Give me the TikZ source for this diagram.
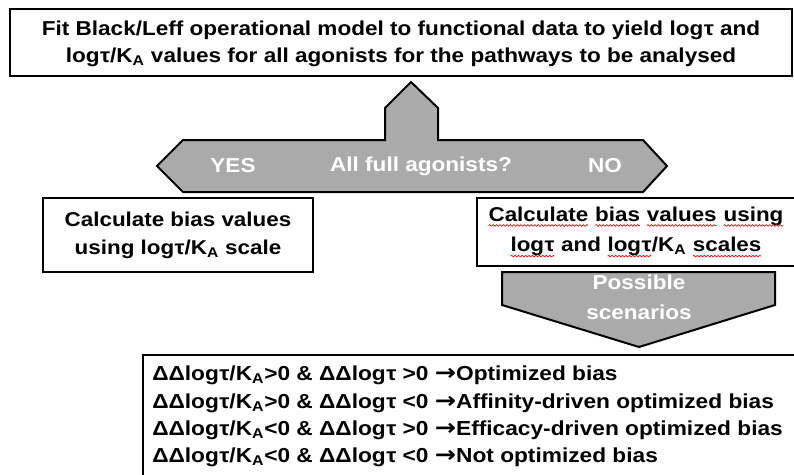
\documentclass[tikz,border=0pt]{standalone}
\usepackage{fontspec}
\setmainfont{Liberation Sans}[FakeStretch=1.12]
\newfontfamily\arrowfont{DejaVu Sans}[FakeStretch=1.12]
\usetikzlibrary{decorations.pathmorphing}

\definecolor{shapegray}{RGB}{170,170,170}
\definecolor{spellred}{RGB}{230,20,20}

% word with a red wavy underline
\newcommand\spellwave[1]{%
  \tikz[baseline=(w.base), x=1pt, y=1pt]{%
    \node[draw=none, fill=none, inner sep=0pt, outer sep=0pt, text=black,
          minimum width=0pt, minimum height=0pt, align=left] (w) {#1};
    \draw[draw=spellred, line width=0.55pt, decorate,
          decoration={snake, amplitude=0.6pt, segment length=2.6pt}]
      ([yshift=-3.2pt]w.base west) -- ([yshift=-3.2pt]w.base east);}}

\newcommand\tlog{log\kern0.3pt τ}
\newcommand\KA{K\textsubscript{A}}
\newcommand\rarr{{\arrowfont\bfseries\fontsize{17}{18}\selectfont →}}

\tikzset{
  panel/.style={draw=black, line width=1.5pt, fill=white, inner sep=0pt, align=center},
  bigshape/.style={draw=black, line width=1.5pt, fill=shapegray, line join=miter},
  boxfont/.style={font=\bfseries\fontsize{15}{#1}\selectfont},
  shapetext/.style={text=white, font=\bfseries\fontsize{15.1}{22.5}\selectfont, align=center, inner sep=0pt},
  linetext/.style={anchor=base west, inner sep=0pt, font=\bfseries\fontsize{15.2}{18}\selectfont},
}

\begin{document}
\begin{tikzpicture}[x=0.75pt, y=-0.75pt]
\useasboundingbox (0,0) rectangle (794,475);

% top box
\node[panel, minimum width=586.5pt, minimum height=50.25pt] (fit) at (401,42.5) {};
\node[align=center, inner sep=0pt, font=\bfseries\fontsize{15.1}{20}\selectfont] (fittext) at (401,44)
  {Fit Black/Leff operational model to functional data to yield \tlog{} and\\
   \tlog/\KA{} values for all agonists for the pathways to be analysed};

% decision arrow
\draw[bigshape] (411,82) -- (438,108) -- (438,140) -- (643,140) -- (667,166)
  -- (643,192) -- (183,192) -- (157,166) -- (183,140) -- (385,140) -- (385,108) -- cycle;
\node[shapetext] (yes) at (233,166) {YES};
\node[shapetext] (question) at (421,166) {All full agonists?};
\node[shapetext] (no) at (605,166) {NO};

% outcome boxes
\node[panel, boxfont=21, minimum width=202.5pt, minimum height=55.5pt] (fullbox) at (178,235)
  {Calculate bias values\\ using \tlog/\KA{} scale};
\node[panel, boxfont=23, minimum width=238.5pt, minimum height=51pt] (partbox) at (636,232)
  {\spellwave{Calculate} \spellwave{bias} \spellwave{values} \spellwave{using}\\
   \spellwave{\tlog} and \spellwave{\tlog}/\KA{} \spellwave{scales}};

% scenarios arrow
\draw[bigshape] (502,272) -- (775,272) -- (775,305) -- (639,347) -- (502,305) -- cycle;
\node[shapetext] (scen) at (639,297) {Possible\\ scenarios};

% scenario list
\draw[line width=1.5pt] (143,495) -- (143,355) -- (795,355);
\node[linetext] (s1) at (152,380) {ΔΔ\tlog/\KA>0 \& ΔΔ\tlog{} >0 \rarr Optimized bias};
\node[linetext] (s2) at (152,408) {ΔΔ\tlog/\KA>0 \& ΔΔ\tlog{} <0 \rarr Affinity-driven optimized bias};
\node[linetext] (s3) at (152,435) {ΔΔ\tlog/\KA<0 \& ΔΔ\tlog{} >0 \rarr Efficacy-driven optimized bias};
\node[linetext] (s4) at (152,462) {ΔΔ\tlog/\KA<0 \& ΔΔ\tlog{} <0 \rarr Not optimized bias};
\end{tikzpicture}
\end{document}
